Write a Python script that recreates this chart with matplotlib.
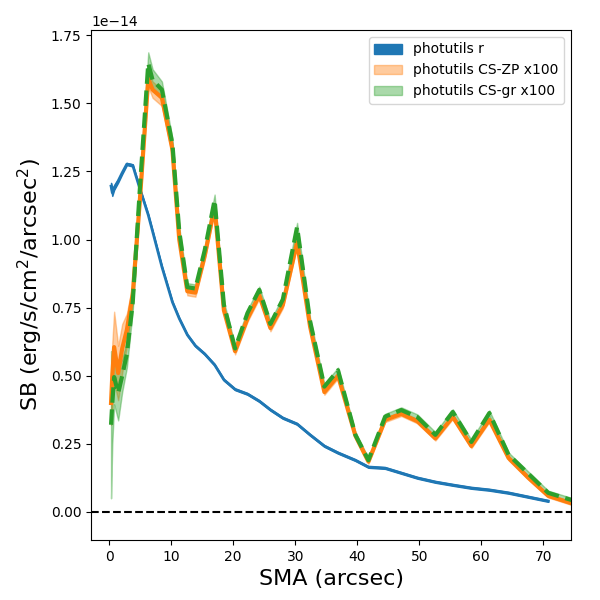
import numpy as np
import matplotlib
matplotlib.use('Agg')
import matplotlib.pyplot as plt

# isophote semi-major axis (arcsec)
sma = [0.3, 0.5, 0.8, 1.45, 2.1, 2.85, 3.8, 4.9, 6.3, 7.0, 8.5, 10.2, 11.3, 12.6,
       13.9, 15.4, 17.0, 18.5, 20.3, 22.3, 24.2, 26.0, 28.0, 30.3, 32.4, 34.7,
       36.9, 39.7, 41.8, 44.5, 47.1, 49.7, 52.6, 55.4, 58.4, 61.3, 64.4, 67.6,
       70.8, 74.8]

# surface brightness in units of 1e-14 erg/s/cm^2/arcsec^2
sb_r = [1.196, 1.172, 1.19, 1.215, 1.245, 1.277, 1.272, 1.19, 1.09, 1.03, 0.90,
        0.77, 0.71, 0.65, 0.61, 0.58, 0.54, 0.485, 0.45, 0.433, 0.407, 0.375,
        0.345, 0.323, 0.283, 0.242, 0.217, 0.19, 0.165, 0.161, 0.143, 0.125,
        0.11, 0.099, 0.088, 0.081, 0.07, 0.055, 0.04, np.nan]
sb_r_err = [0.012, 0.012, 0.008, 0.006, 0.005, 0.004, 0.004, 0.003, 0.003, 0.003,
            0.003, 0.003, 0.003, 0.003, 0.003, 0.003, 0.003, 0.003, 0.003, 0.003,
            0.003, 0.003, 0.003, 0.003, 0.003, 0.003, 0.003, 0.003, 0.003, 0.003,
            0.003, 0.003, 0.003, 0.003, 0.003, 0.003, 0.003, 0.003, 0.003, np.nan]

sb_zp = [0.40, 0.50, 0.605, 0.51, 0.60, 0.668, 0.80, 1.13, 1.59, 1.55, 1.52, 1.33,
         1.0, 0.81, 0.805, 0.94, 1.12, 0.74, 0.59, 0.71, 0.795, 0.675, 0.76,
         0.99, 0.68, 0.44, 0.50, 0.28, 0.185, 0.338, 0.36, 0.333, 0.27, 0.349,
         0.242, 0.338, 0.198, 0.125, 0.059, 0.03]
sb_zp_err = [0.08, 0.12, 0.13, 0.10, 0.09, 0.06, 0.04, 0.03, 0.03, 0.03, 0.03,
             0.025, 0.02, 0.015, 0.015, 0.015, 0.015, 0.012, 0.012, 0.012, 0.012,
             0.012, 0.012, 0.012, 0.01, 0.01, 0.01, 0.01, 0.008, 0.008, 0.008,
             0.008, 0.008, 0.008, 0.008, 0.008, 0.008, 0.006, 0.006, 0.006]

sb_gr = [0.32, 0.40, 0.495, 0.436, 0.50, 0.58, 0.77, 1.17, 1.647, 1.585, 1.55,
         1.35, 1.03, 0.825, 0.82, 0.96, 1.145, 0.76, 0.60, 0.73, 0.815, 0.69,
         0.78, 1.046, 0.70, 0.46, 0.52, 0.283, 0.19, 0.35, 0.374, 0.348, 0.283,
         0.367, 0.257, 0.363, 0.21, 0.14, 0.07, 0.042]
sb_gr_err = [0.27, 0.15, 0.10, 0.10, 0.06, 0.05, 0.03, 0.03, 0.04, 0.04, 0.03,
             0.02, 0.015, 0.015, 0.015, 0.015, 0.02, 0.012, 0.012, 0.012, 0.012,
             0.012, 0.012, 0.015, 0.012, 0.01, 0.01, 0.01, 0.008, 0.01, 0.01,
             0.01, 0.01, 0.01, 0.008, 0.01, 0.008, 0.008, 0.008, 0.008]

scale = 1e-14


def band(ax, x, y, err, color, alpha, label):
    y = np.array(y) * scale
    err = np.array(err) * scale
    ax.fill_between(x, y - err, y + err, color=color, alpha=alpha, label=label)
    return y


fig = plt.figure(figsize=(6, 6), dpi=100)
ax = fig.add_axes([0.152, 0.1, 0.8, 0.85])

y = band(ax, sma, sb_r, sb_r_err, 'C0', 1.0, 'photutils r')
ax.plot(sma, y, color='C0', lw=2)

y = band(ax, sma, sb_zp, sb_zp_err, 'C1', 0.4, 'photutils CS-ZP x100')
ax.plot(sma, y, color='C1', lw=3)

y = band(ax, sma, sb_gr, sb_gr_err, 'C2', 0.4, 'photutils CS-gr x100')
ax.plot(sma, y, color='C2', lw=3, ls='--')

ax.axhline(0, color='k', ls='--')

ax.set_xlim(-2.9, 74.5)
ax.set_ylim(-0.103e-14, 1.769e-14)
ax.set_xlabel('SMA (arcsec)', fontsize=16)
ax.set_ylabel('SB (erg/s/cm$^2$/arcsec$^2$)', fontsize=16)
ax.legend(loc='upper right')

plt.savefig('out.png', dpi=100)
